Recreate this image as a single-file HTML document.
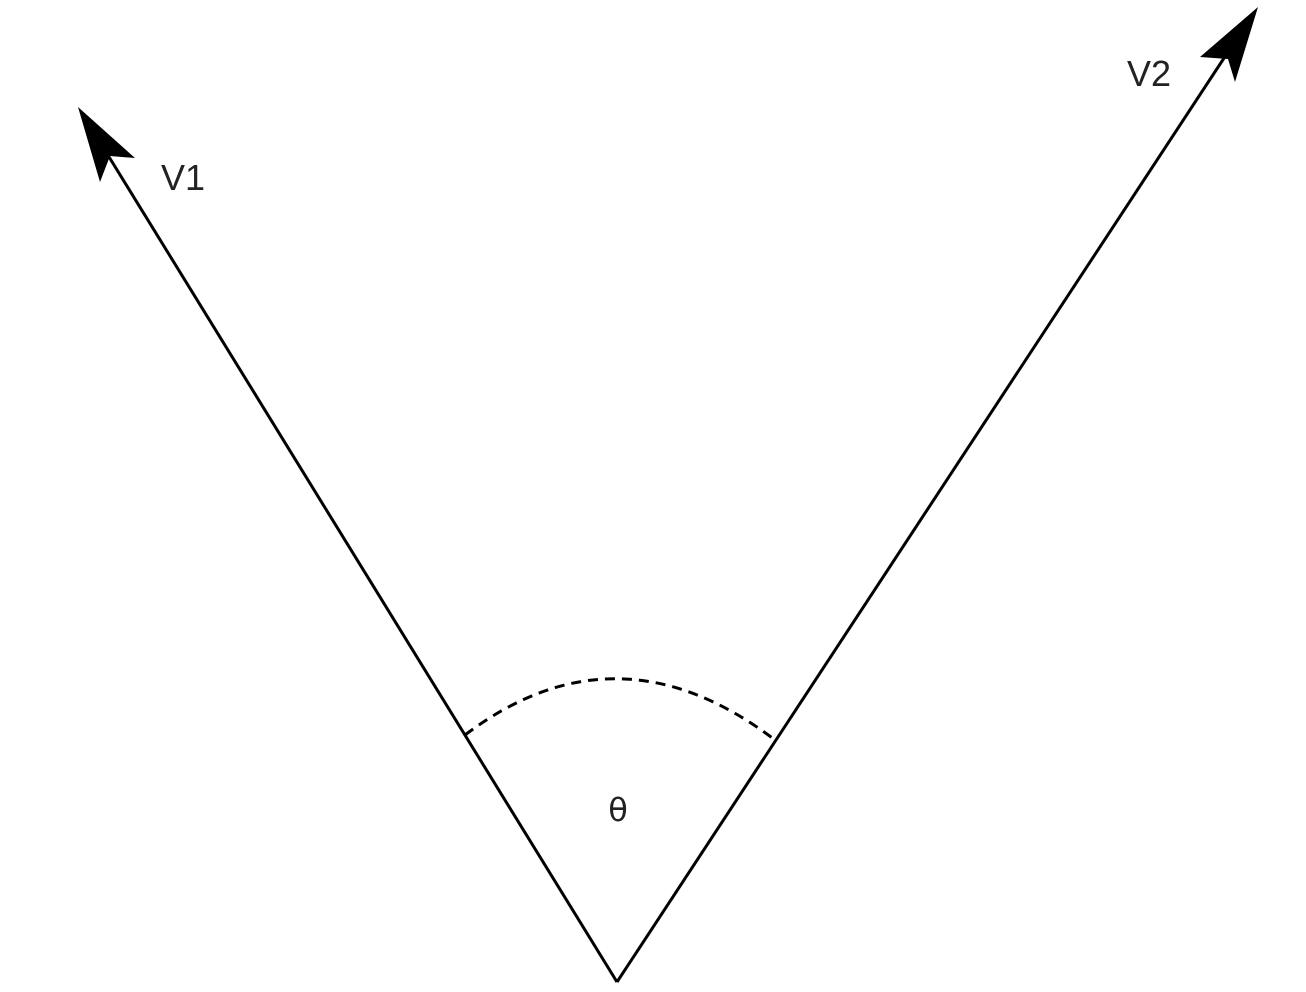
<!DOCTYPE html>
<html><head><meta charset="utf-8"><style>html,body{margin:0;padding:0;background:#fff;width:1306px;height:992px;overflow:hidden}</style></head>
<body>
<svg width="1306" height="992" viewBox="0 0 1306 992" style="display:block">
  <line x1="617" y1="982" x2="106" y2="152" stroke="#000" stroke-width="3"/>
  <polygon points="78,107 135,158 110,156 100,182" fill="#000"/>
  <line x1="617" y1="982" x2="1228" y2="52" stroke="#000" stroke-width="3"/>
  <polygon points="1258,7 1235,82 1228,59 1200,57" fill="#000"/>
  <path d="M465 735 Q617 620 775 740" fill="none" stroke="#000" stroke-width="3" stroke-dasharray="10,7"/>
  <text x="161" y="190" font-family="Liberation Sans, sans-serif" font-size="36" fill="#222">V1</text>
  <text x="1127" y="86" font-family="Liberation Sans, sans-serif" font-size="36" fill="#222">V2</text>
  <text x="618" y="821" text-anchor="middle" font-family="DejaVu Sans, sans-serif" font-size="32" fill="#222">θ</text>
</svg>
</body></html>
